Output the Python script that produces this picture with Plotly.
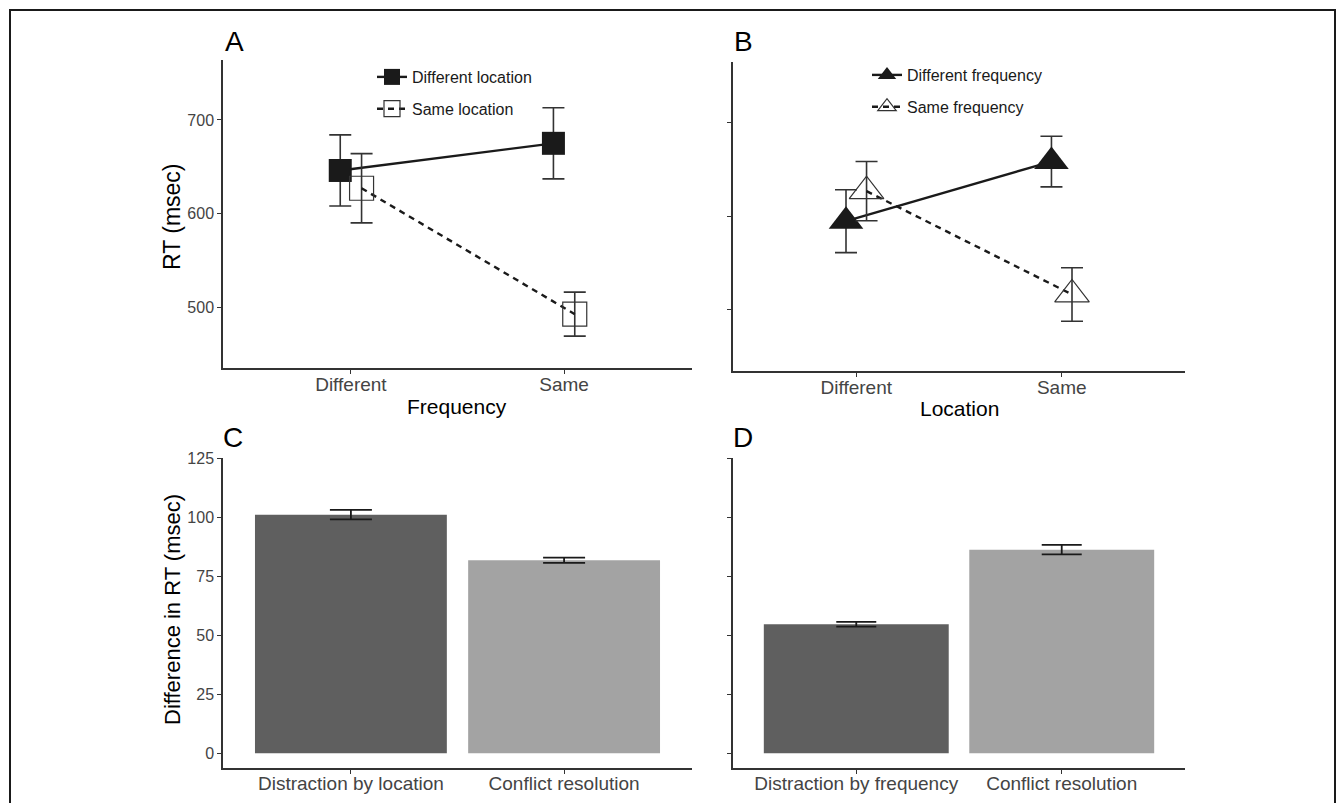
import plotly.graph_objects as go

# ---------------- data ----------------
levels = ["Different", "Same"]

a_diff_loc_mean = [646, 675]
a_diff_loc_err = [38, 38]
a_same_loc_mean = [627, 492.5]
a_same_loc_err = [37, 23.5]

b_diff_freq_mean = [594.5, 658]
b_diff_freq_err = [33.5, 27]
b_same_freq_mean = [626.5, 516.5]
b_same_freq_err = [31.5, 28.5]

c_cats = ["Distraction by location", "Conflict resolution"]
c_vals = [101, 81.7]
c_errs = [2.0, 1.1]

d_cats = ["Distraction by frequency", "Conflict resolution"]
d_vals = [54.6, 86.2]
d_errs = [1.0, 2.0]

bar_colors = ["#5f5f5f", "#a3a3a3"]

# ---------------- layout helpers ----------------
W, H = 1337, 803
def xd(a, b):
    return [a / W, b / W]
def yd(top, bottom):
    return [1 - bottom / H, 1 - top / H]

FONT = "Liberation Sans, Arial, sans-serif"
AX = "#333333"
TICKC = "#444444"

fig = go.Figure()

pos = [1, 2]
dodge = 0.05
left = [p - dodge for p in pos]
right = [p + dodge for p in pos]

# Panel A
fig.add_trace(go.Scatter(
    x=left, y=a_diff_loc_mean, mode="lines+markers", name="Different location",
    line=dict(color="#1a1a1a", width=2.4),
    marker=dict(symbol="square", size=23, color="#1a1a1a"),
    error_y=dict(type="data", array=a_diff_loc_err, color=AX, thickness=1.6, width=11),
    xaxis="x", yaxis="y", legend="legend", legendgroup="a1"))
fig.add_trace(go.Scatter(
    x=right, y=a_same_loc_mean, mode="lines+markers", name="Same location",
    line=dict(color="#1a1a1a", width=2.4, dash="6px,5px"),
    marker=dict(symbol="square-open", size=24, color="#333333", line=dict(width=1.2)),
    error_y=dict(type="data", array=a_same_loc_err, color=AX, thickness=1.6, width=11),
    xaxis="x", yaxis="y", legend="legend", legendgroup="a2"))

# Panel B
fig.add_trace(go.Scatter(
    x=left, y=b_diff_freq_mean, mode="lines+markers", name="Different frequency",
    line=dict(color="#1a1a1a", width=2.4),
    marker=dict(symbol="triangle-up", size=30, color="#1a1a1a"),
    error_y=dict(type="data", array=b_diff_freq_err, color=AX, thickness=1.6, width=11),
    xaxis="x2", yaxis="y2", legend="legend2", legendgroup="b1"))
fig.add_trace(go.Scatter(
    x=right, y=b_same_freq_mean, mode="lines+markers", name="Same frequency",
    line=dict(color="#1a1a1a", width=2.4, dash="6px,5px"),
    marker=dict(symbol="triangle-up-open", size=30, color="#333333", line=dict(width=1.2)),
    error_y=dict(type="data", array=b_same_freq_err, color=AX, thickness=1.6, width=11),
    xaxis="x2", yaxis="y2", legend="legend2", legendgroup="b2"))

# Panel C
fig.add_trace(go.Bar(
    x=c_cats, y=c_vals, width=0.9, marker=dict(color=bar_colors, line=dict(width=0)),
    error_y=dict(type="data", array=c_errs, color="#1a1a1a", thickness=1.8, width=21),
    xaxis="x3", yaxis="y3", showlegend=False))

# Panel D
fig.add_trace(go.Bar(
    x=d_cats, y=d_vals, width=0.9, marker=dict(color=bar_colors, line=dict(width=0)),
    error_y=dict(type="data", array=d_errs, color="#1a1a1a", thickness=1.8, width=20),
    xaxis="x4", yaxis="y4", showlegend=False))

common_axis = dict(showline=True, linecolor=AX, linewidth=1.5, ticks="outside",
                   ticklen=4, tickwidth=1.2, tickcolor=AX, showgrid=False,
                   zeroline=False, automargin=False,
                   tickfont=dict(family=FONT, size=16, color=TICKC))

xcat = dict(common_axis, tickvals=pos, ticktext=levels, range=[0.4, 2.6],
            ticklabelstandoff=-6,
            tickfont=dict(family=FONT, size=19, color=TICKC))
xbar = dict(common_axis, type="category", range=[-0.6, 1.6],
            ticklabelstandoff=-7,
            tickfont=dict(family=FONT, size=19, color=TICKC))

fig.update_layout(
    width=W, height=H, margin=dict(l=0, r=0, t=0, b=0, autoexpand=False),
    paper_bgcolor="white", plot_bgcolor="white",
    font=dict(family=FONT, color="black"),
    xaxis=dict(xcat, domain=xd(223, 692), anchor="y"),
    yaxis=dict(common_axis, domain=yd(60, 368), range=[435, 764],
               tickvals=[500, 600, 700], anchor="x"),
    xaxis2=dict(xcat, domain=xd(733, 1185), anchor="y2"),
    yaxis2=dict(common_axis, domain=yd(62, 371), range=[435, 764],
                tickvals=[500, 600, 700], showticklabels=False, anchor="x2"),
    xaxis3=dict(xbar, domain=xd(223, 692), anchor="y3"),
    yaxis3=dict(common_axis, domain=yd(458, 768), range=[-6.25, 125],
                tickvals=[0, 25, 50, 75, 100, 125], anchor="x3"),
    xaxis4=dict(xbar, domain=xd(733, 1185), anchor="y4"),
    yaxis4=dict(common_axis, domain=yd(458, 768), range=[-6.25, 125],
                tickvals=[0, 25, 50, 75, 100, 125], showticklabels=False, anchor="x4"),
    legend=dict(x=372 / W, y=1 - 60 / H, xanchor="left", yanchor="top",
                bgcolor="rgba(0,0,0,0)", tracegroupgap=8, itemsizing="trace",
                font=dict(family=FONT, size=16, color="#1a1a1a")),
    legend2=dict(x=867 / W, y=1 - 58 / H, xanchor="left", yanchor="top",
                 bgcolor="rgba(0,0,0,0)", tracegroupgap=8, itemsizing="trace",
                 font=dict(family=FONT, size=16, color="#1a1a1a")),
    bargap=0.1,
)

annots = [
    dict(text="A", x=234 / W, y=1 - 42 / H, size=28),
    dict(text="B", x=743 / W, y=1 - 42 / H, size=28),
    dict(text="C", x=233 / W, y=1 - 438 / H, size=28),
    dict(text="D", x=743 / W, y=1 - 438 / H, size=28),
    dict(text="Frequency", x=457 / W, y=1 - 406 / H, size=21),
    dict(text="Location", x=959 / W, y=1 - 408 / H, size=21),
]
for a in annots:
    fig.add_annotation(text=a["text"], x=a["x"], y=a["y"], xref="paper", yref="paper",
                       showarrow=False, xanchor="center", yanchor="middle",
                       font=dict(family=FONT, size=a["size"], color="black"))
fig.add_annotation(text="RT (msec)", x=172 / W, y=1 - 217 / H, xref="paper", yref="paper",
                   showarrow=False, textangle=-90, xanchor="center", yanchor="middle",
                   font=dict(family=FONT, size=23, color="black"))
fig.add_annotation(text="Difference in RT (msec)", x=172 / W, y=1 - 610 / H, xref="paper",
                   yref="paper", showarrow=False, textangle=-90, xanchor="center",
                   yanchor="middle", font=dict(family=FONT, size=22, color="black"))

# outer frame
fig.add_shape(type="rect", xref="paper", yref="paper",
              x0=10 / W, x1=1335 / W, y0=-0.05, y1=1 - 10 / H,
              line=dict(color="#1a1a1a", width=2), fillcolor="rgba(0,0,0,0)")

fig.write_html(
    "out.html",
    config={"displayModeBar": False},
    post_script=(
        "document.documentElement.style.margin='0';"
        "document.documentElement.style.overflow='hidden';"
        "document.body.style.margin='0';document.body.style.padding='0';"
        "document.body.style.overflow='hidden';"
        "var gd=document.getElementById('{plot_id}');"
        "gd.style.position='fixed';gd.style.top='0px';gd.style.left='0px';"
    ),
)
